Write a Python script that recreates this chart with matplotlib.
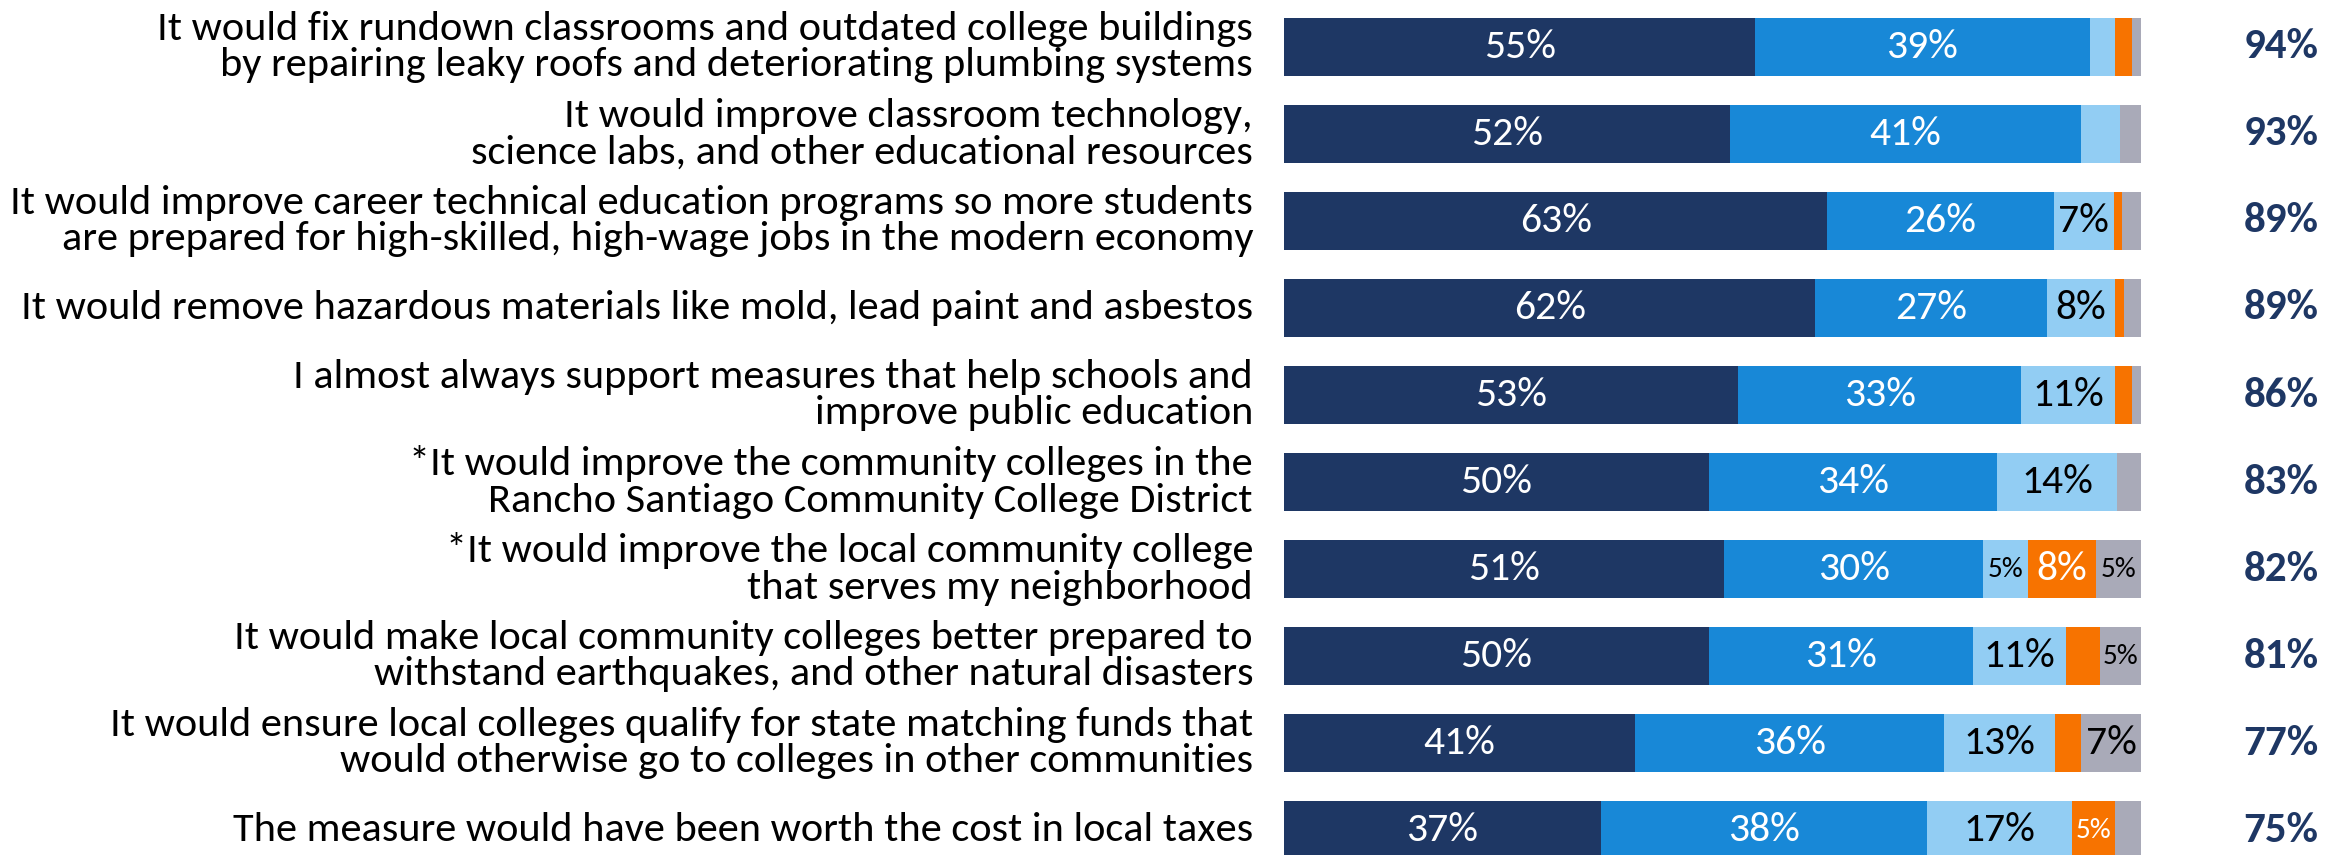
import matplotlib
matplotlib.use("Agg")
import matplotlib.pyplot as plt
from matplotlib import font_manager
import numpy as np

# ---------------- data ----------------
categories = [
    "It would fix rundown classrooms and outdated college buildings\nby repairing leaky roofs and deteriorating plumbing systems",
    "It would improve classroom technology,\nscience labs, and other educational resources",
    "It would improve career technical education programs so more students\nare prepared for high-skilled, high-wage jobs in the modern economy",
    "It would remove hazardous materials like mold, lead paint and asbestos",
    "I almost always support measures that help schools and\nimprove public education",
    "*It would improve the community colleges in the\nRancho Santiago Community College District",
    "*It would improve the local community college\nthat serves my neighborhood",
    "It would make local community colleges better prepared to\nwithstand earthquakes, and other natural disasters",
    "It would ensure local colleges qualify for state matching funds that\nwould otherwise go to colleges in other communities",
    "The measure would have been worth the cost in local taxes",
]
very_much = [55, 52, 63.4, 62, 53, 49.6, 51.4, 49.6, 41, 37]
somewhat = [39, 41, 26.4, 27, 33, 33.6, 30.2, 30.8, 36, 38]
only_little = [3, 4.5, 7, 8, 11, 14, 5.2, 10.8, 13, 17]
not_at_all = [2, 0, 1, 1, 2, 0, 8, 4, 3, 5]
dont_know = [1, 2.5, 2.2, 2, 1, 2.8, 5.2, 4.8, 7, 3]
total_support = ["94%", "93%", "89%", "89%", "86%", "83%", "82%", "81%", "77%", "75%"]

series = [very_much, somewhat, only_little, not_at_all, dont_know]
colors = ["#1E3764", "#1888D7", "#92CDF3", "#F77300", "#A9AAB8"]
label_colors = ["white", "white", "black", "white", "black"]

# ---------------- fonts ----------------
available = {f.name for f in font_manager.fontManager.ttflist}
family = "DejaVu Sans"
for cand in ["Carlito", "Liberation Sans Narrow", "Open Sans", "Lato"]:
    if cand in available:
        family = cand
        break
plt.rcParams["font.family"] = [family, "DejaVu Sans"]

W, H = 2344, 855
fig = plt.figure(figsize=(W / 100, H / 100), dpi=100)
x0, x1 = 1284, 2141
ax = fig.add_axes([x0 / W, 0, (x1 - x0) / W, 1])
ax.set_xlim(0, 100)
ax.set_ylim(9.287, -0.540)
ax.axis("off")

y = np.arange(len(categories))
left = np.zeros(len(categories))
for vals, col, lcol in zip(series, colors, label_colors):
    vals = np.array(vals, dtype=float)
    ax.barh(y, vals, left=left, height=0.667, color=col, edgecolor="none")
    for yi, (l, v) in enumerate(zip(left, vals)):
        r = int(round(v))
        if r >= 5:
            fs = 21 if r <= 5 else 30
            ax.text(l + v / 2, yi, f"{r}%", ha="center", va="center",
                    color=lcol, fontsize=fs)
    left += vals

px_per_unit = (x1 - x0) / 100.0
cat_x = -(x0 - 1253) / px_per_unit
val_x = (2281 - x0) / px_per_unit
for yi, (cat, tot) in enumerate(zip(categories, total_support)):
    ax.text(cat_x, yi, cat, ha="right", va="center", fontsize=30.5,
            color="black", linespacing=1.02, clip_on=False)
    ax.text(val_x, yi, tot, ha="center", va="center", fontsize=31,
            fontweight="bold", color="#1E3764", clip_on=False)

fig.savefig("out.png", dpi=100)
